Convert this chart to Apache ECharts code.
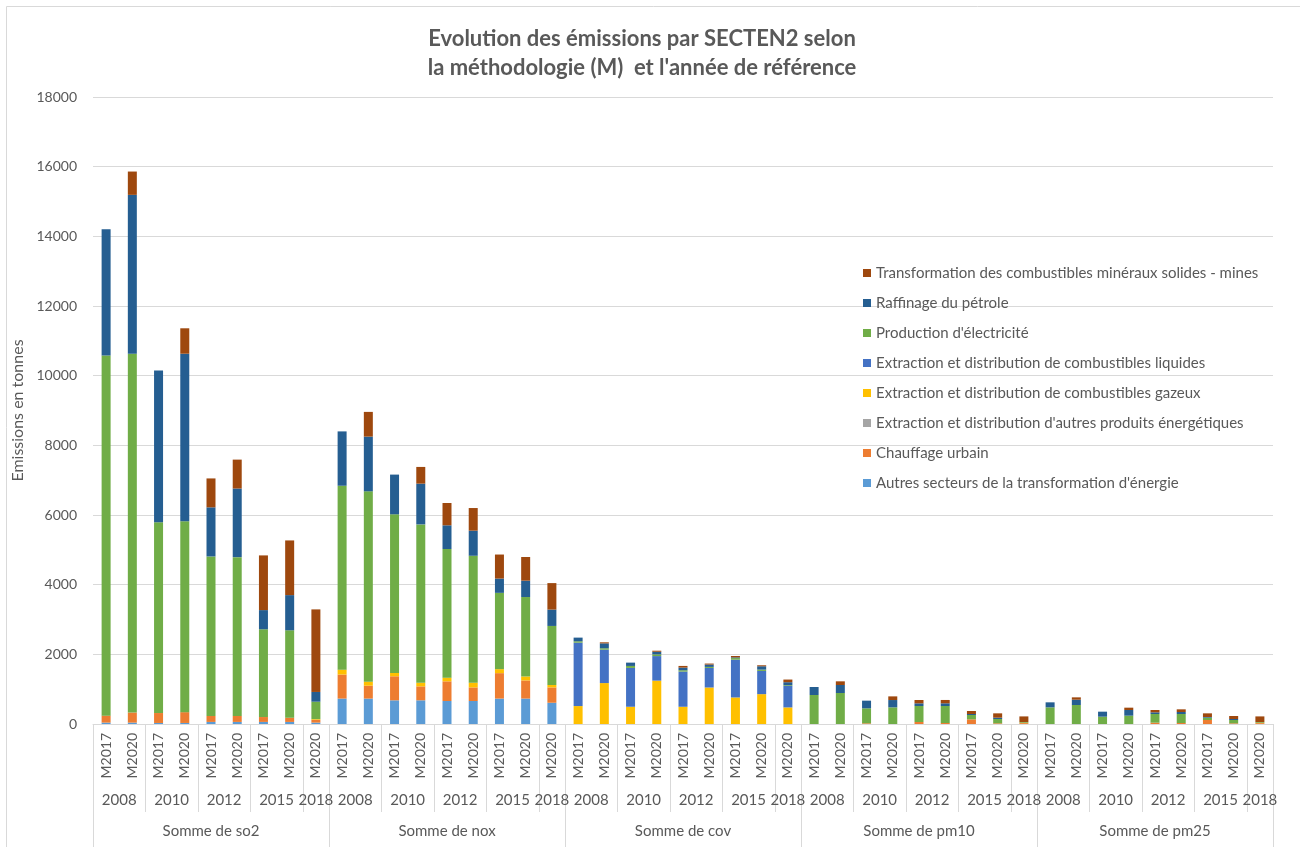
<!DOCTYPE html>
<html>
<head>
<meta charset="utf-8">
<script src="https://cdn.jsdelivr.net/npm/echarts@6/dist/echarts.min.js"></script>
<style>
  html, body { margin: 0; padding: 0; background: #fff; }
  #main { width: 1300px; height: 847px; }
</style>
</head>
<body>
<div id="main"></div>
<script>
// niveaux de l'axe des x
var pollutants = ['Somme de so2', 'Somme de nox', 'Somme de cov', 'Somme de pm10', 'Somme de pm25'];
var years = ['2008', '2010', '2012', '2015', '2018'];
var methods = [['M2017', 'M2020'], ['M2017', 'M2020'], ['M2017', 'M2020'], ['M2017', 'M2020'], ['M2020']];

// valeurs par secteur (so2 | nox | cov | pm10 | pm25)
var autresSecteurs = [
  40, 40, 30, 30, 60, 60, 60, 60, 40,
  730, 730, 680, 680, 660, 660, 730, 730, 610,
  0, 0, 0, 0, 0, 0, 0, 0, 0,
  0, 0, 0, 0, 0, 0, 0, 0, 0,
  0, 0, 0, 0, 0, 0, 0, 0, 0
];
var chauffage = [
  200, 290, 285, 310, 170, 170, 140, 120, 80,
  690, 370, 690, 400, 565, 390, 730, 520, 440,
  0, 0, 0, 0, 0, 0, 0, 0, 0,
  0, 0, 20, 0, 57, 29, 134, 20, 25,
  0, 0, 0, 0, 38, 29, 115, 19, 25
];
var autresProduits = [
  0, 0, 0, 0, 0, 0, 0, 0, 0,
  0, 0, 0, 0, 0, 0, 0, 0, 0,
  0, 0, 0, 0, 0, 0, 0, 0, 0,
  0, 0, 0, 0, 0, 0, 0, 0, 0,
  0, 0, 0, 0, 0, 0, 0, 0, 0
];
var gazeux = [
  0, 0, 0, 0, 0, 0, 0, 0, 20,
  140, 115, 95, 105, 105, 135, 115, 115, 70,
  515, 1175, 495, 1245, 495, 1048, 762, 857, 476,
  0, 0, 0, 0, 0, 0, 0, 0, 10,
  0, 0, 0, 0, 0, 0, 0, 0, 10
];
var liquides = [
  0, 0, 0, 0, 0, 0, 0, 0, 0,
  0, 0, 0, 0, 0, 0, 0, 0, 0,
  1820, 960, 1115, 705, 1010, 562, 1086, 667, 619,
  0, 0, 0, 0, 0, 0, 0, 0, 0,
  0, 0, 0, 0, 0, 0, 0, 0, 0
];
var electricite = [
  10340, 10300, 5475, 5480, 4580, 4560, 2520, 2510, 500,
  5280, 5465, 4555, 4545, 3694, 3645, 2190, 2280, 1695,
  40, 40, 57, 48, 38, 29, 45, 38, 20,
  833, 890, 430, 478, 459, 488, 124, 124, 20,
  478, 545, 210, 239, 249, 258, 67, 96, 20
];
var raffinage = [
  3620, 4560, 4360, 4810, 1410, 1970, 550, 1010, 280,
  1560, 1570, 1140, 1170, 680, 720, 410, 470, 470,
  105, 140, 95, 76, 76, 67, 20, 95, 85,
  230, 230, 220, 210, 77, 77, 29, 38, 0,
  144, 153, 144, 163, 48, 57, 19, 29, 0
];
var mines = [
  0, 670, 0, 730, 830, 830, 1570, 1570, 2370,
  0, 710, 0, 480, 640, 650, 690, 680, 760,
  0, 30, 0, 30, 48, 29, 40, 29, 76,
  0, 105, 0, 105, 96, 96, 86, 124, 163,
  0, 67, 0, 67, 67, 77, 105, 86, 163
];

var secteurs = [
  {name: "Autres secteurs de la transformation d'énergie", data: autresSecteurs, color: '#5B9BD5'},
  {name: 'Chauffage urbain', data: chauffage, color: '#ED7D31'},
  {name: "Extraction et distribution d'autres produits énergétiques", data: autresProduits, color: '#A5A5A5'},
  {name: 'Extraction et distribution de combustibles gazeux', data: gazeux, color: '#FFC000'},
  {name: 'Extraction et distribution de combustibles liquides', data: liquides, color: '#4472C4'},
  {name: "Production d'électricité", data: electricite, color: '#70AD47'},
  {name: 'Raffinage du pétrole', data: raffinage, color: '#255E91'},
  {name: 'Transformation des combustibles minéraux solides - mines', data: mines, color: '#9E480E'}
];

// construction des categories et des demi-positions pour les niveaux 2 et 3
var cats = [], half = [], yearLab = {}, polLab = {}, yearSep = {}, polSep = {};
var j = 0;
pollutants.forEach(function (p) {
  var start = j;
  polSep[2 * j] = true;
  years.forEach(function (y, yi) {
    yearSep[2 * j] = true;
    yearLab[2 * j + methods[yi].length] = y;
    methods[yi].forEach(function (m) { cats.push(m); j++; });
  });
  polLab[2 * start + (j - start)] = p;
});
yearSep[2 * j] = true;
polSep[2 * j] = true;
for (var k = 0; k <= 2 * j; k++) half.push(String(k));

var font = 'Lato, "Liberation Sans", sans-serif';
var grey = '#595959';
var line = '#D9D9D9';

function auxAxis(extra) {
  var ax = {
    type: 'category',
    data: half,
    boundaryGap: false,
    position: 'bottom',
    axisLine: {show: false},
    axisTick: {show: false},
    axisLabel: {show: false},
    splitLine: {show: false}
  };
  for (var key in extra) ax[key] = extra[key];
  return ax;
}

var myChart = echarts.init(document.getElementById('main'));

var option = {
  animation: false,
  title: {
    text: 'Evolution des émissions par SECTEN2 selon\nla méthodologie (M)  et l\'année de référence',
    left: 637,
    textAlign: 'center',
    top: 19,
    textStyle: {fontFamily: font, fontSize: 22, fontWeight: 'bold', color: grey, lineHeight: 29}
  },
  graphic: [{
    type: 'rect',
    shape: {x: 6.5, y: 6.5, width: 1400, height: 1000},
    style: {fill: 'none', stroke: line, lineWidth: 1},
    silent: true
  }],
  legend: {
    orient: 'vertical',
    left: 858,
    top: 259,
    itemWidth: 8,
    itemHeight: 8,
    itemGap: 12,
    icon: 'rect',
    data: secteurs.map(function (s) { return s.name; }).reverse(),
    textStyle: {fontFamily: font, fontSize: 15, color: grey, lineHeight: 18}
  },
  grid: {left: 93, right: 27, top: 97, bottom: 123},
  xAxis: [
    {
      type: 'category',
      data: cats,
      axisLine: {lineStyle: {color: line}},
      axisTick: {show: false},
      axisLabel: {interval: 0, rotate: 90, margin: 9, fontFamily: font, fontSize: 14, color: grey}
    },
    auxAxis({
      axisTick: {show: true, length: 88, interval: function (i) { return !!yearSep[i]; }, lineStyle: {color: line}}
    }),
    auxAxis({
      axisTick: {show: true, length: 130, interval: function (i) { return !!polSep[i]; }, lineStyle: {color: line}}
    }),
    auxAxis({
      axisLabel: {show: true, interval: 0, margin: 69, fontFamily: font, fontSize: 15, color: grey,
        formatter: function (v, i) { return yearLab[i] || ''; }}
    }),
    auxAxis({
      axisLabel: {show: true, interval: 0, margin: 100, fontFamily: font, fontSize: 15, color: grey,
        formatter: function (v, i) { return polLab[i] || ''; }}
    })
  ],
  yAxis: {
    type: 'value',
    min: 0,
    max: 18000,
    interval: 2000,
    name: 'Emissions en tonnes',
    nameLocation: 'middle',
    nameGap: 58,
    nameTextStyle: {fontFamily: font, fontSize: 16, color: grey},
    axisLine: {show: false},
    axisTick: {show: false},
    axisLabel: {margin: 16, fontFamily: font, fontSize: 14, color: grey,
      formatter: function (v) { return String(v); }},
    splitLine: {lineStyle: {color: line}}
  },
  series: secteurs.map(function (s) {
    return {
      name: s.name,
      type: 'bar',
      stack: 'total',
      barWidth: 9,
      data: s.data,
      itemStyle: {color: s.color},
      emphasis: {disabled: true}
    };
  })
};

myChart.setOption(option);
</script>
</body>
</html>
